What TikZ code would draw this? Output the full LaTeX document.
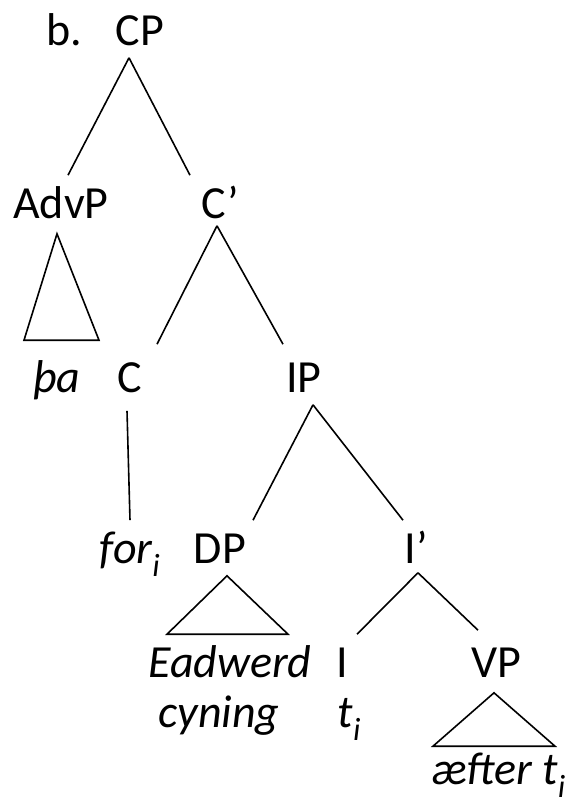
\documentclass[tikz,border=0pt]{standalone}
\usepackage{fontspec}
\setmainfont{Carlito}
\begin{document}
\begin{tikzpicture}[x=1pt, y=-1pt, line width=1.6pt,
	lbl/.style = {anchor=base, inner xsep=0pt, inner ysep=12pt, text height=30pt, text depth=0pt, font=\fontsize{46}{50}\selectfont},
	word/.style = {lbl, font=\fontsize{46}{50}\selectfont\itshape}]
		\useasboundingbox (0,0) rectangle (574,804);
		\node[lbl] (ex) at (64,45) {b.};
		\node[lbl] (cp) at (140,45) {CP};
		\node[lbl] (advp) at (61,218) {AdvP};
		\node[lbl] (c1) at (220,218) {C’};
		\node[word] (tha) at (57,392) {þa};
		\node[lbl] (c) at (130,392) {C};
		\node[lbl] (ip) at (304,392) {IP};
		\node[word] (for) at (130,563) {for\textsubscript{i}};
		\node[lbl] (dp) at (220,563) {DP};
		\node[lbl] (i1) at (416,563) {I’};
		\node[word] (eadwerd) at (230,677) {Eadwerd};
		\node[word] (cyning) at (219,727) {cyning};
		\node[lbl] (i) at (342,677) {I};
		\node[word, anchor=base west] (ti) at (337,727) {t\textsubscript{i}};
		\node[lbl] (vp) at (496,677) {VP};
		\node[word] (after) at (499,784) {æfter t\textsubscript{i}};
		% branches
		\draw ([xshift=-11pt]cp.south) -- ([xshift=7pt]advp.north);
		\draw ([xshift=-11pt]cp.south) -- ([xshift=-30pt]c1.north);
		\draw ([xshift=-3pt, yshift=5pt]c1.south) -- ([xshift=27pt, yshift=5pt]c.north);
		\draw ([xshift=-3pt, yshift=5pt]c1.south) -- ([xshift=-21pt, yshift=5pt]ip.north);
		\draw ([xshift=-3pt, yshift=-6pt]c.south) -- (for.north);
		\draw ([xshift=9pt]ip.south) -- ([xshift=33pt]dp.north);
		\draw ([xshift=9pt]ip.south) -- ([xshift=-13pt]i1.north);
		\draw ([xshift=2pt, yshift=3pt]i1.south) -- ([xshift=15pt]i.north);
		\draw ([xshift=2pt, yshift=3pt]i1.south) -- ([xshift=-18pt, yshift=4pt]vp.north);
		% triangles
		\draw ([xshift=-4pt, yshift=-3pt]advp.south) -- ([xshift=-33pt, yshift=9pt]tha.north) -- ([xshift=42pt, yshift=9pt]tha.north) -- cycle;
		\draw ([xshift=7pt]dp.south) -- ([xshift=-63pt]eadwerd.north) -- ([xshift=58pt]eadwerd.north) -- cycle;
		\draw ([xshift=-2pt, yshift=-3pt]vp.south) -- ([xshift=-66pt, yshift=-5pt]after.north) -- ([xshift=56pt, yshift=-5pt]after.north) -- cycle;
\end{tikzpicture}
\end{document}
